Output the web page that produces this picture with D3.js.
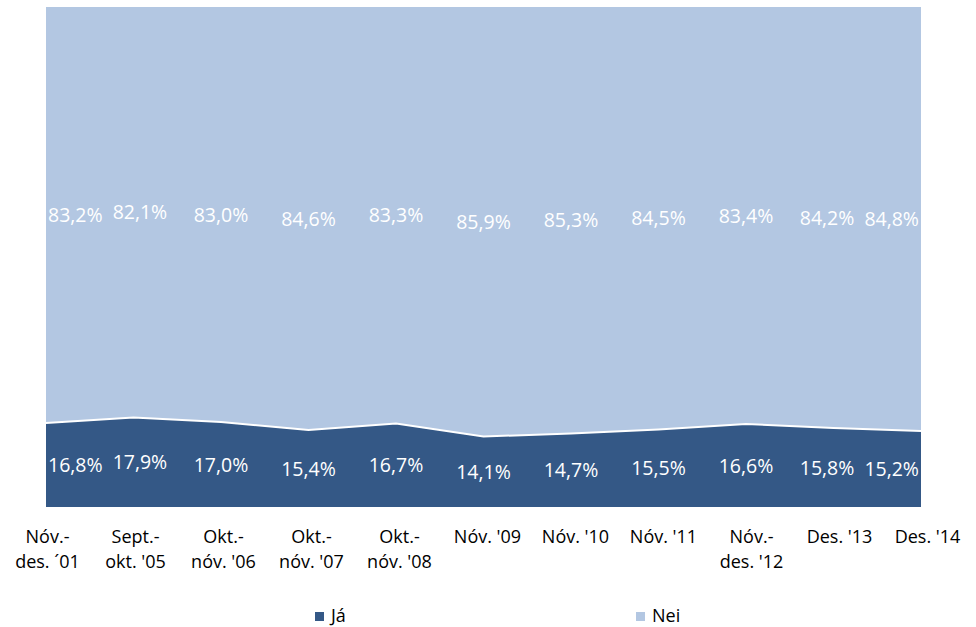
<!DOCTYPE html>
<html>
<head>
<meta charset="utf-8">
<title></title>
<style>
  body { margin: 0; background: #fff; }
  svg { display: block; }
  .axis text { font-family: "Open Sans", sans-serif; font-size: 18px; fill: #000; }
  .lbl { font-family: "Open Sans", sans-serif; font-size: 19.5px; fill: #fff; }
  .legend text { font-family: "Open Sans", sans-serif; font-size: 18px; fill: #000; }
</style>
</head>
<body>
<script src="https://cdn.jsdelivr.net/npm/d3@7/dist/d3.min.js"></script>
<script>
// categories (line breaks marked with |)
var categories = ['Nóv.-|des. ´01', "Sept.-|okt. '05", "Okt.-|nóv. '06", "Okt.-|nóv. '07", "Okt.-|nóv. '08",
  "Nóv. '09", "Nóv. '10", "Nóv. '11", "Nóv.-|des. '12", "Des. '13", "Des. '14"]
var ja = [16.8, 17.9, 17.0, 15.4, 16.7, 14.1, 14.7, 15.5, 16.6, 15.8, 15.2]
var nei = [83.2, 82.1, 83.0, 84.6, 83.3, 85.9, 85.3, 84.5, 83.4, 84.2, 84.8]
var seriesNames = ['Já', 'Nei']
var colors = { 'Já': '#345886', 'Nei': '#b3c7e2' }

var width = 976
var height = 627
var plot = { left: 46, right: 921, top: 7, bottom: 507 }

var svg = d3.select('body').append('svg')
  .attr('width', width)
  .attr('height', height)

var table = categories.map(function(c, i) {
  return { cat: c, 'Já': ja[i], 'Nei': nei[i] }
})

var stack = d3.stack().keys(seriesNames).offset(d3.stackOffsetExpand)
var layers = stack(table)

var x = d3.scalePoint()
  .domain(categories)
  .range([plot.left, plot.right])
// Excel spreads the category texts a little wider than the points
var xLabel = d3.scalePoint()
  .domain(categories)
  .range([plot.left + 1, plot.right + 6])
var y = d3.scaleLinear()
  .domain([0, 1])
  .range([plot.bottom, plot.top])

var area = d3.area()
  .x(function(d) { return x(d.data.cat) })
  .y0(function(d) { return y(d[0]) })
  .y1(function(d) { return y(d[1]) })

// Nei first, Já on top with white edge
svg.append('path')
  .datum(layers[1])
  .attr('fill', colors['Nei'])
  .attr('d', area)

svg.append('path')
  .datum(layers[0])
  .attr('fill', colors['Já'])
  .attr('d', area)

var edge = d3.line()
  .x(function(d) { return x(d.data.cat) })
  .y(function(d) { return y(d[1]) })
svg.append('path')
  .datum(layers[0])
  .attr('fill', 'none')
  .attr('stroke', '#fff')
  .attr('stroke-width', 2)
  .attr('d', edge)

// data labels, kept inside the plot and apart from each other
function placeLabels(layer) {
  var items = layer.map(function(d) {
    var v = (d[1] - d[0]) * 100
    return { text: v.toFixed(1).replace('.', ',') + '%', cx: x(d.data.cat), cy: y((d[0] + d[1]) / 2) }
  })
  var g = svg.append('g')
  var texts = g.selectAll('text').data(items).enter().append('text')
    .attr('class', 'lbl')
    .attr('text-anchor', 'middle')
    .attr('dy', '0.36em')
    .text(function(d) { return d.text })
  texts.each(function(d) { d.w = this.getComputedTextLength() })
  var pad = 2, gap = 10
  items.forEach(function(d) {
    d.cx = Math.max(plot.left + pad + d.w / 2, Math.min(plot.right - pad - d.w / 2, d.cx))
  })
  for (var i = 1; i < items.length; i++) {
    var a = items[i - 1], b = items[i]
    var minC = a.cx + a.w / 2 + gap + b.w / 2
    if (b.cx < minC && i < items.length - 1) b.cx = minC
  }
  for (var j = items.length - 2; j >= 0; j--) {
    var r = items[j + 1], l = items[j]
    var maxC = r.cx - r.w / 2 - gap - l.w / 2
    if (l.cx > maxC) l.cx = maxC
  }
  texts.attr('x', function(d) { return d.cx }).attr('y', function(d) { return d.cy })
}
placeLabels(layers[0])
placeLabels(layers[1])

// category axis
var xAxis = d3.axisBottom(xLabel).tickSize(0).tickPadding(0)
var gx = svg.append('g')
  .attr('class', 'axis')
  .attr('transform', 'translate(0,' + plot.bottom + ')')
  .call(xAxis)
gx.select('.domain').remove()
gx.attr('font-family', null).attr('font-size', null)
gx.selectAll('text')
  .attr('y', 0)
  .attr('dy', null)
  .each(function(d) {
    var t = d3.select(this)
    var lines = d.split('|')
    t.text(null)
    lines.forEach(function(s, k) {
      t.append('tspan').attr('x', 0).attr('y', 36 + k * 25).text(s)
    })
  })

// legend
var legendX = { 'Já': 315, 'Nei': 636 }
var lg = svg.append('g').attr('class', 'legend')
seriesNames.forEach(function(n) {
  lg.append('rect')
    .attr('x', legendX[n]).attr('y', 612)
    .attr('width', 9).attr('height', 9)
    .attr('fill', colors[n])
  lg.append('text')
    .attr('x', legendX[n] + 16).attr('y', 622)
    .text(n)
})
</script>
</body>
</html>
